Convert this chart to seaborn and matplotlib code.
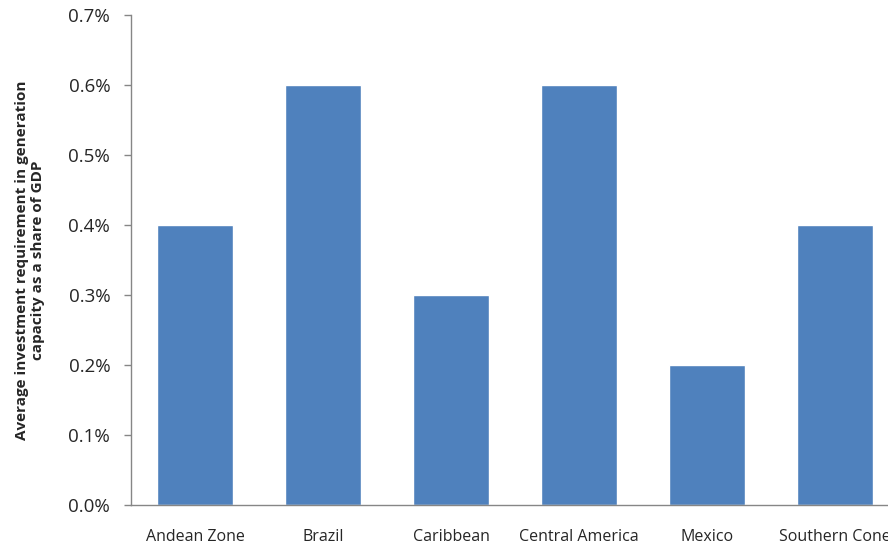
import matplotlib
matplotlib.use("Agg")
import matplotlib.pyplot as plt
from matplotlib.ticker import PercentFormatter, FixedLocator
import seaborn as sns
import pandas as pd

regions = ["Andean Zone", "Brazil", "Caribbean", "Central America", "Mexico", "Southern Cone"]
share_of_gdp = [0.004, 0.006, 0.003, 0.006, 0.002, 0.004]

sns.set_style("white")
plt.rcParams["font.family"] = ["Open Sans", "DejaVu Sans"]

df = pd.DataFrame({"region": regions, "share": share_of_gdp})

fig = plt.figure(figsize=(8.88, 5.43), dpi=100)
ax = fig.add_axes([131 / 888, 38 / 543, 768 / 888, 490 / 543])
sns.barplot(data=df, x="region", y="share", color="#4F81BD", saturation=1,
            width=0.6, ax=ax)

ax.set_xlim(-0.5, 5.5)
ax.set_ylim(0, 0.007)
ax.set_yticks([i / 1000 for i in range(8)])
ax.yaxis.set_major_formatter(PercentFormatter(xmax=1, decimals=1))
ax.xaxis.set_minor_locator(FixedLocator([i - 0.5 for i in range(7)]))
ax.tick_params(axis="x", which="major", length=0, pad=17, labelsize=11.5)
ax.tick_params(axis="x", which="minor", length=5, color="#868686", width=1)
ax.tick_params(axis="y", length=5, color="#868686", width=1, labelsize=13.5, pad=10, left=True)

for side in ["top", "right"]:
    ax.spines[side].set_visible(False)
for side in ["left", "bottom"]:
    ax.spines[side].set_color("#868686")
    ax.spines[side].set_linewidth(1)

ax.set_xlabel("")
ax.set_ylabel("Average investment requirement in generation\ncapacity as a share of GDP",
              fontsize=11, fontweight="bold", labelpad=17, linespacing=1.2)

fig.savefig("out.png", dpi=100)
